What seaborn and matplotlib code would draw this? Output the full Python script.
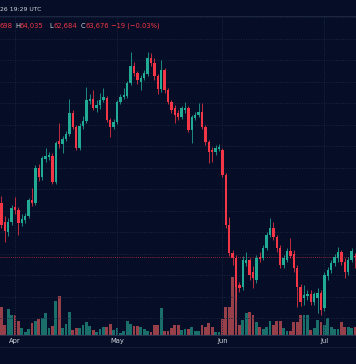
import numpy as np
import pandas as pd
import matplotlib
matplotlib.use("Agg")
import matplotlib.pyplot as plt
from matplotlib.lines import Line2D
import seaborn as sns

# ---------------- data ----------------
days = list(range(-4, 101))          # day 0 = 1 Apr
opens = [
    68700, 66930, 66000, 66930, 68330, 68050, 66840, 67120, 67490, 68980,
    68700, 71950, 71120, 72790, 72980, 73070, 70650, 74470, 74190, 74650,
    75120, 77070, 75770, 73820, 75860, 76330, 78190, 78370, 77540, 77810,
    78280, 78470, 76420, 75770, 76230, 78090, 78560, 78650, 79860, 81440,
    80790, 79950, 80330, 80700, 82190, 81720, 80510, 79300, 81070, 79210,
    78090, 77540, 77070, 76700, 77350, 77540, 75490, 76600, 76880, 77160,
    75770, 74370, 73630, 73440, 73720, 73630, 71300, 66650, 64050, 63580,
    61070, 60880, 63120, 63400, 62280, 61530, 63680, 63580, 64510, 65720,
    66370, 65540, 64510, 62930, 63400, 64230, 63950, 62650, 60880, 59860,
    60050, 60230, 59490, 59860, 60330, 58930, 61910, 62470, 63120, 63580,
    64140, 63210, 62280, 63400, 63698]
highs = [
    69350, 67490, 67300, 68510, 69260, 68330, 67680, 67770, 69160, 70090,
    72230, 72330, 73070, 73820, 73440, 73350, 74470, 76140, 74930, 75400,
    78370, 77350, 75950, 76140, 76790, 79490, 78840, 79210, 78280, 78930,
    79400, 78650, 76600, 76510, 78280, 78840, 79400, 80050, 82740, 81810,
    80980, 80600, 81070, 82740, 82650, 82190, 80700, 82000, 81260, 79400,
    78280, 77810, 77350, 77720, 78090, 77720, 76880, 77160, 78000, 78000,
    75950, 74560, 73910, 74090, 74190, 73820, 71490, 67400, 64330, 63860,
    61350, 63770, 64140, 63580, 62840, 63860, 64140, 64790, 66000, 67300,
    66930, 65720, 64790, 63860, 64510, 65440, 64330, 62930, 61160, 61070,
    60600, 60600, 60420, 60790, 60600, 62280, 62750, 63400, 63950, 64600,
    64330, 63580, 63680, 64510, 64035]
lows = [
    66370, 65070, 65630, 66650, 67680, 65720, 66560, 66840, 67300, 68420,
    68510, 70750, 70840, 72510, 72700, 70470, 70470, 73820, 73350, 74470,
    74930, 75580, 73630, 73630, 75580, 76140, 77910, 77350, 77160, 77440,
    78090, 76230, 74840, 75580, 76050, 77910, 78370, 78470, 79670, 80510,
    79770, 79210, 80140, 80510, 81440, 80140, 78840, 79020, 78930, 77910,
    77070, 76140, 76420, 76510, 77070, 75300, 74280, 76420, 76700, 75580,
    74090, 72420, 72510, 73160, 73540, 71120, 66370, 63770, 62930, 59670,
    60420, 60600, 62840, 61530, 60790, 61260, 63210, 63400, 64330, 65540,
    65260, 64140, 62650, 62650, 63210, 63580, 62280, 59020, 59120, 59210,
    59670, 59210, 59210, 58470, 58280, 58650, 61530, 62190, 62840, 63210,
    62930, 61720, 62000, 63210, 62684]
closes = [
    66650, 66090, 66930, 68230, 68050, 66840, 67210, 67490, 68980, 68700,
    71950, 71120, 72890, 73070, 73160, 70650, 74280, 74190, 74650, 75120,
    77070, 75770, 73820, 75860, 76330, 78280, 78370, 77540, 77810, 78280,
    78560, 76420, 75770, 76230, 78090, 78560, 78740, 79860, 81440, 80790,
    80140, 80330, 80790, 82190, 81720, 80510, 79300, 81070, 79210, 78090,
    77350, 76880, 76700, 77540, 77540, 75490, 76700, 76880, 77160, 75770,
    74370, 73440, 73440, 73820, 73910, 71300, 66650, 64050, 63580, 60880,
    60790, 63400, 63400, 62000, 61720, 63580, 63490, 64510, 65720, 66370,
    65540, 64510, 62930, 63580, 64230, 63770, 62650, 60880, 59490, 60140,
    60230, 59490, 60230, 60330, 58740, 62000, 62470, 63120, 63680, 64140,
    63210, 62280, 63400, 64230, 63676]
volumes_k = [
    28, 10, 26, 20, 20, 14, 7, 3, 6, 12,
    14, 16, 17, 22, 7, 9, 34, 39, 7, 11,
    23, 5, 7, 7, 10, 13, 9, 5, 3, 6,
    8, 8, 11, 5, 7, 2, 4, 14, 11, 9,
    9, 8, 6, 4, 3, 10, 10, 27, 4, 4,
    7, 10, 10, 5, 6, 6, 8, 4, 4, 10,
    8, 12, 8, 3, 3, 16, 28, 28, 58, 55,
    10, 15, 22, 23, 20, 13, 8, 6, 8, 14,
    10, 14, 14, 7, 4, 4, 13, 13, 20, 20,
    20, 5, 7, 15, 13, 10, 17, 8, 6, 6,
    13, 8, 8, 7, 8]
month_days = [0, 30, 61, 91]
month_labels = ["Apr", "May", "Jun", "Jul"]
price_grid = list(range(58000, 86001, 2000))
last_price = 63676
header_time = "26 19:29 UTC"
ohlc_texts = ["698", "H", "64,035", "L", "62,684", "C", "63,676", "\u221219 (\u22120.03%)"]
ohlc_is_value = [True, False, True, False, True, False, True, True]

# ---------------- style ----------------
W, H = 356, 364
bg = "#050e26"
up_c, dn_c = "#22ab94", "#f23645"
vol_up, vol_dn = "#1b6f6a", "#97404a"
grid_c = "#1a2642"
text_c = "#d1d4dc"

sns.set_theme(style="dark", rc={"axes.facecolor": bg, "figure.facecolor": bg})
plt.rcParams["font.family"] = ["DejaVu Sans"]

fig = plt.figure(figsize=(W / 100, H / 100), dpi=100)
fig.patch.set_facecolor(bg)

pane_top, pane_bot = 16, 335
pos = [0, 1 - pane_bot / H, 1, (pane_bot - pane_top) / H]
axv = fig.add_axes(pos)
ax = fig.add_axes(pos)
ax.patch.set_visible(False)
axv.set_facecolor(bg)

df = pd.DataFrame({"day": days, "open": opens, "high": highs, "low": lows,
                   "close": closes, "volume": volumes_k})
df["dir"] = np.where(df["close"] >= df["open"], "up", "down")

# volume (seaborn)
sns.barplot(data=df, x="day", y="volume", hue="dir",
            palette={"up": vol_up, "down": vol_dn}, native_scale=True,
            dodge=False, errorbar=None, width=0.8, saturation=1,
            legend=False, linewidth=0, ax=axv)

xlim = (-4.41, 100.29)
axv.set_xlim(*xlim)
axv.set_ylim(0, pane_bot - pane_top)

# candles
cols = np.where(df["dir"] == "up", up_c, dn_c)
ax.vlines(df["day"], df["low"], df["high"], colors=cols, linewidth=0.55, zorder=3)
body_lo = np.minimum(df["open"], df["close"])
body_h = np.maximum(np.abs(df["close"] - df["open"]), 90)
ax.bar(df["day"], body_h, bottom=body_lo, width=0.74, color=cols, linewidth=0, zorder=4)

ax.set_xlim(*xlim)
ax.set_ylim(56419, 86093)

# grid
ax.set_yticks(price_grid)
ax.set_xticks(month_days)
ax.grid(True, color=grid_c, linestyle=(0, (1, 1.5)), linewidth=0.7)
ax.axhline(last_price, color=dn_c, linestyle=(0, (1, 1.5)), linewidth=0.6, alpha=0.8, zorder=2)

for a in (ax, axv):
    a.tick_params(left=False, bottom=False, labelleft=False, labelbottom=False)
    a.set_xlabel("")
    a.set_ylabel("")
    for s in a.spines.values():
        s.set_visible(False)
axv.grid(False)

# month labels
for d, lab in zip(month_days, month_labels):
    ax.text(d, -(343 - pane_bot) / (pane_bot - pane_top), lab,
            transform=ax.get_xaxis_transform(), ha="center", va="baseline",
            fontsize=4.9, color=text_c, clip_on=False)

# separators
for yy, c in ((16, "#1c2640"), (335, "#27304a"), (347, "#141d36")):
    fig.add_artist(Line2D([0, 1], [1 - yy / H] * 2, transform=fig.transFigure,
                          color=c, linewidth=0.8))

# header texts
fig.text(0, 1 - 11 / H, header_time, fontsize=4.4, color=text_c, ha="left", va="baseline")
xs = [0, 15.7, 19.3, 49.3, 53.3, 80.7, 85, 111]
for x, t, isv in zip(xs, ohlc_texts, ohlc_is_value):
    fig.text(x / W, 1 - 27.7 / H, t, fontsize=4.9, color=dn_c if isv else text_c,
             ha="left", va="baseline")

fig.savefig("out.png", dpi=100, facecolor=bg)
